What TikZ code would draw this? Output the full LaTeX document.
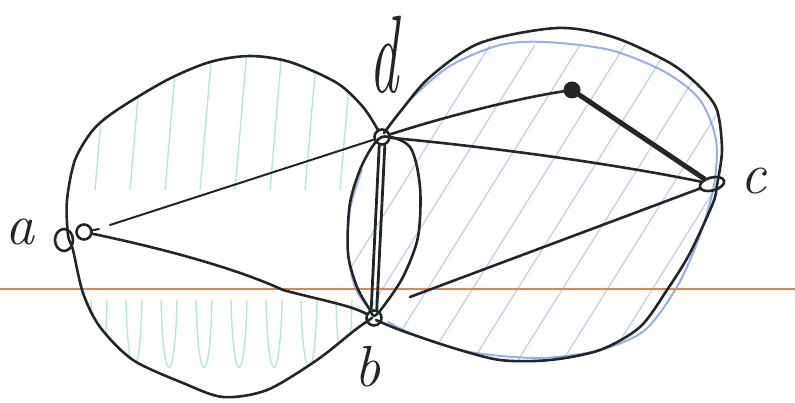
\documentclass[tikz,border=0pt]{standalone}
\usepackage{tikz}
\usetikzlibrary{shapes.geometric}
\definecolor{ink}{RGB}{35,38,38}
\definecolor{hblue}{RGB}{125,155,225}
\definecolor{hgreen}{RGB}{120,215,175}
\definecolor{horange}{RGB}{232,130,72}
\tikzset{
  inkline/.style={draw=ink,line width=2.6pt,line cap=round,line join=round},
  thinline/.style={draw=ink,line width=2pt,line cap=round},
  boldline/.style={draw=ink,line width=5pt,line cap=round},
  vtx/.style={circle,draw=ink,line width=2.6pt,minimum size=15pt,inner sep=0pt},
  vtxc/.style={ellipse,draw=ink,line width=2.6pt,minimum width=25pt,minimum height=13pt,inner sep=0pt,rotate=15},
  dotn/.style={circle,fill=ink,minimum size=17pt,inner sep=0pt},
  lbl/.style={text=ink,font=\fontsize{58}{58}\selectfont\itshape,inner sep=0pt},
  bluehatch/.style={draw=hblue,line width=1.2pt,opacity=0.5},
  greenhatch/.style={draw=hgreen,line width=1.4pt,opacity=0.55},
}
\begin{document}
\begin{tikzpicture}[x=1pt,y=-1pt]
\useasboundingbox (0,0) rectangle (795,403);
% ---- hatching, clipped to the blobs
\begin{scope}
\clip plot[smooth cycle] coordinates {(382,137) (390,123) (430,77) (480,43) (557,28) (613,37) (670,63) (700,87) (717,110) (722,150) (715,185) (713,203) (690,253) (667,290) (640,327) (600,350) (550,360) (500,360) (450,347) (400,330) (374,318) (357,287) (348,253) (350,203) (363,163)};
\foreach \x in {290,335,...,740} {
  \draw[bluehatch] (\x,365) -- (\x+200,45);
}
\end{scope}
\begin{scope}
\clip plot[smooth cycle] coordinates {(382,137) (363,107) (337,83) (290,62) (250,56) (210,62) (167,80) (117,110) (93,130) (75,160) (67,200) (68,235) (73,250) (83,293) (100,327) (133,360) (183,383) (223,397) (267,390) (317,360) (355,330) (374,318) (357,287) (348,253) (350,203) (363,163)};
\foreach \x in {95,130,...,370} {
  \draw[greenhatch] (\x+12,50) -- (\x,190);
  \draw[greenhatch] (\x-4,300) .. controls (\x-2,390) and (\x+10,390) .. (\x+12,300);
}
\end{scope}
% ---- blue outline of the right region
\draw[hblue,line width=2pt,opacity=0.8,line cap=round]
  plot[smooth] coordinates {(386,130) (410,100) (450,66) (500,45) (545,42) (610,50) (665,72) (700,100) (716,140) (714,185) (700,235) (678,285) (645,330) (600,350) (540,358) (470,352) (415,335) (388,322)};
\draw[hblue,line width=1.8pt,opacity=0.7,line cap=round]
  plot[smooth] coordinates {(362,170) (350,210) (348,255) (356,290) (372,312)};
% ---- orange line
\draw[horange,line width=1.4pt] (0,289) -- (795,289);
% ---- vertices
\node[vtx] (a) at (84,232) {};
\node[vtx] (d) at (382,137) {};
\node[vtx] (b) at (374,318) {};
\node[vtxc] (c) at (712,184) {};
\node[dotn] (p) at (572,90) {};
\draw[inkline] (64,240) circle[x radius=9pt,y radius=11pt];
% ---- outlines
\draw[inkline] plot[smooth] coordinates {(378,130) (363,107) (337,83) (290,62) (250,56) (210,62) (167,80) (117,110) (93,130) (75,160) (67,200) (68,235) (73,250) (83,293) (100,327) (133,360) (183,383) (223,397) (267,390) (317,360) (355,330) (372,318)};
\draw[inkline] plot[smooth] coordinates {(384,133) (400,112) (430,77) (480,43) (557,28) (613,37) (670,63) (700,87) (717,110) (722,150) (717,185) (713,203) (690,253) (667,290) (640,327) (600,350) (550,360) (500,360) (450,347) (400,330) (376,320)};
\draw[inkline] plot[smooth cycle] coordinates {(382,137) (410,147) (420,187) (418,237) (403,277) (383,307) (374,316) (370,310) (357,287) (348,253) (350,203) (363,163)};
% ---- edges
\draw[thinline] (a) -- (99,229);
\draw[thinline] (110,225) -- (d);
\draw[inkline] (a) .. controls (170,250) and (240,270) .. (283,290) .. controls (320,300) and (350,305) .. (b);
\draw[inkline,line width=2.8pt] ([xshift=-2.8pt]d.south) -- ([xshift=-2.8pt]b.north);
\draw[inkline,line width=2.8pt] ([xshift=2.8pt]d.south) -- ([xshift=2.8pt]b.north);
\draw[inkline] (d) .. controls (450,115) and (520,98) .. (p);
\draw[boldline] (p) -- (c);
\draw[inkline] (d) .. controls (500,148) and (620,165) .. (c);
\draw[inkline] (c) -- (410,297);
% ---- labels
\node[lbl,anchor=base] (la) at (20,245) {a};
\node[lbl,anchor=base] (ld) at (384,93) {\scalebox{1}[1.9]{d}};
\node[lbl,anchor=base] (lb) at (368,386) {b};
\node[lbl,anchor=base] (lc) at (754,194) {c};
\end{tikzpicture}
\end{document}
